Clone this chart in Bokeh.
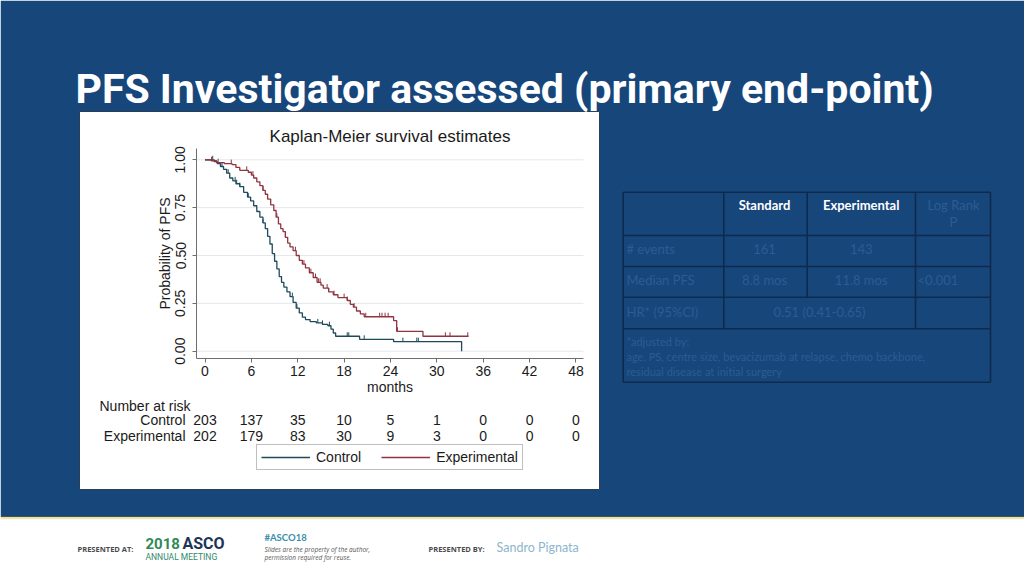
import numpy as np
from bokeh.plotting import figure
from bokeh.models import (Range1d, Legend, LegendItem, FixedTicker, NumeralTickFormatter,
                          LinearAxis)
from bokeh.embed import file_html
from bokeh.resources import INLINE
from bokeh.core.properties import value

# ---------------- data ----------------
ctrl_t = [0, 1.2, 1.6, 2.0, 2.4, 2.8, 3.2, 3.6, 4.0, 4.5, 5.0, 5.5, 5.9, 6.3, 6.7, 7.1, 7.5,
          7.8, 8.1, 8.4, 8.7, 9.0, 9.3, 9.6, 9.9, 10.2, 10.6, 11.0, 11.4, 11.8, 12.2, 12.6,
          13.0, 13.6, 14.4, 15.2, 15.9, 16.3, 16.6, 16.9, 20.0, 24.4, 33.2]
ctrl_s = [1.0, 0.99, 0.98, 0.965, 0.95, 0.93, 0.905, 0.89, 0.875, 0.86, 0.83, 0.805, 0.785,
          0.76, 0.73, 0.70, 0.67, 0.64, 0.60, 0.56, 0.51, 0.47, 0.43, 0.39, 0.36, 0.335, 0.31,
          0.285, 0.255, 0.225, 0.20, 0.178, 0.165, 0.155, 0.148, 0.14, 0.133, 0.115, 0.095,
          0.078, 0.062, 0.05, 0.0]
ctrl_censor = [1.0, 2.2, 3.0, 3.9, 4.1, 4.5, 5.6, 7.5, 11.3, 11.9, 14.6, 15.2, 16.1, 18.4,
               18.6, 20.6, 25.6, 27.4, 27.6]

exp_t = [0, 0.8, 1.5, 2.5, 3.5, 4.0, 4.5, 5.6, 6.0, 6.3, 6.7, 7.1, 7.5, 7.8, 8.1, 8.5, 8.9,
         9.2, 9.5, 9.8, 10.1, 10.4, 10.7, 11.0, 11.4, 11.8, 12.2, 12.6, 13.0, 13.5, 14.0, 14.5,
         15.0, 15.3, 16.0, 16.6, 17.2, 18.4, 18.8, 19.2, 19.6, 20.1, 20.6, 24.4, 24.8, 28.2, 34.1]
exp_s = [1.0, 0.995, 0.985, 0.98, 0.975, 0.96, 0.945, 0.935, 0.92, 0.905, 0.885, 0.865, 0.84,
         0.82, 0.795, 0.765, 0.735, 0.70, 0.665, 0.64, 0.625, 0.595, 0.565, 0.545, 0.525, 0.50,
         0.475, 0.455, 0.435, 0.41, 0.385, 0.36, 0.345, 0.33, 0.31, 0.295, 0.28, 0.265, 0.245,
         0.23, 0.21, 0.195, 0.18, 0.16, 0.104, 0.078, 0.078]
exp_censor = [0.85, 1.7, 3.4, 5.4, 6.2, 7.5, 9.3, 10.4, 11.7, 12.8, 13.7, 14.3, 14.7, 14.9,
              15.8, 16.0, 16.7, 18.0, 18.4, 19.3, 20.8, 22.6, 22.9, 23.3, 23.7, 24.9, 31.1,
              31.7, 34.0]

x_ticks = [0, 6, 12, 18, 24, 30, 36, 42, 48]
y_ticks = [0.0, 0.25, 0.5, 0.75, 1.0]
risk_times = [0, 6, 12, 18, 24, 30, 36, 42, 48]
risk_control = [203, 137, 35, 10, 5, 1, 0, 0, 0]
risk_experimental = [202, 179, 83, 30, 9, 3, 0, 0, 0]
group_names = ["Control", "Experimental"]

table_header = ["Standard", "Experimental", "Log Rank", "P"]
row_labels = ["# events", "Median PFS", "HR* (95%CI)"]
events = ["161", "143"]
median_pfs = ["8.8 mos", "11.8 mos"]
logrank_p = "<0.001"
hr_text = "0.51 (0.41-0.65)"
notes = ["*adjusted by:",
         " age, PS, centre size, bevacizumab at relapse, chemo backbone,",
         "residual disease at initial surgery"]

slide_title = "PFS Investigator assessed (primary end-point)"
km_title = "Kaplan-Meier survival estimates"

# ---------------- styles / layout constants ----------------
BLUE = "#17467B"
C_CTRL = "#1F4A5C"
C_EXP = "#8E3540"
AX = "#6E6E6E"
TXT = "#1A1A1A"
DIM = "#2C5C93"
W, H = 1024, 576

FR_L, FR_R, FR_T, FR_B = 196, 583, 148, 358     # KM plot region (page px)
X0PX, PXM = 204.5, 7.729                         # page px of month 0, px per month
Y0PX, PXS = 350.7, 191.4                         # page px of S=0, px per unit


def px2m(px):
    return (px - X0PX) / PXM


def px2s(py):
    return (Y0PX - py) / PXS


xm0, xm1 = px2m(FR_L), px2m(FR_R)
ys0, ys1 = px2s(FR_B), px2s(FR_T)

p = figure(width=W, height=H, x_range=Range1d(px2m(0), px2m(W)),
           y_range=Range1d(px2s(H), px2s(0)), toolbar_location=None, output_backend="svg",
           x_axis_location=None, y_axis_location=None, min_border=0,
           background_fill_color="white", border_fill_color="white", outline_line_color=None)
for g in p.grid:
    g.visible = False
p.extra_x_ranges = {"px": Range1d(0, W)}
p.extra_y_ranges = {"px": Range1d(H, 0)}
PX = dict(x_range_name="px", y_range_name="px")

# ---------------- slide background ----------------
p.quad(left=[0], right=[W], top=[0], bottom=[515.5], fill_color=BLUE, line_color=None, **PX)
p.quad(left=[0], right=[W], top=[515.5], bottom=[516.7], fill_color="#44564A", line_color=None, **PX)
p.quad(left=[0], right=[W], top=[516.7], bottom=[518.7], fill_color="#EDE7AE", line_color=None, **PX)
p.quad(left=[79], right=[599], top=[111], bottom=[489], fill_color="white",
       line_color="#2A3F55", line_width=1, **PX)

p.text(x=[75], y=[88], text=[slide_title], text_font=value("Roboto"),
       text_font_size=value("41px"), text_font_style="bold", text_color="white",
       text_baseline="middle", text_align="left", **PX)

# ---------------- KM plot ----------------
p.segment(x0=[xm0] * len(y_ticks), x1=[xm1] * len(y_ticks), y0=y_ticks, y1=y_ticks,
          line_color="#E3E8EB", line_width=1)

xax = LinearAxis(ticker=FixedTicker(ticks=x_ticks), fixed_location=ys0, bounds=(xm0, xm1),
                 axis_label="months")
yax = LinearAxis(ticker=FixedTicker(ticks=y_ticks), fixed_location=xm0, bounds=(ys0, ys1),
                 formatter=NumeralTickFormatter(format="0.00"), axis_label="Probability of PFS",
                 major_label_orientation="vertical")
for ax in (xax, yax):
    ax.axis_line_color = AX
    ax.major_tick_line_color = AX
    ax.minor_tick_line_color = None
    ax.major_tick_out = 4
    ax.major_tick_in = 0
    ax.major_label_text_font = "Liberation Sans"
    ax.major_label_text_font_size = "14px"
    ax.major_label_text_color = TXT
    ax.axis_label_text_font = "Liberation Sans"
    ax.axis_label_text_font_size = "14px"
    ax.axis_label_text_font_style = "normal"
    ax.axis_label_text_color = TXT
xax.major_label_standoff = 3
xax.axis_label_standoff = 0
yax.major_label_standoff = 7
yax.axis_label_standoff = 0
p.add_layout(xax, "below")
p.add_layout(yax, "left")

r_ctrl = p.step(ctrl_t, ctrl_s, mode="after", line_color=C_CTRL, line_width=1.3)
r_exp = p.step(exp_t, exp_s, mode="after", line_color=C_EXP, line_width=1.3)


def surv_at(ts, ss, cs):
    ts = np.asarray(ts)
    idx = np.searchsorted(ts, np.asarray(cs), side="right") - 1
    return np.asarray(ss)[idx]


TICK_H = 4.0 / PXS
for ts, ss, cs, col in ((ctrl_t, ctrl_s, ctrl_censor, C_CTRL), (exp_t, exp_s, exp_censor, C_EXP)):
    sv = surv_at(ts, ss, cs)
    p.segment(x0=cs, y0=sv, x1=cs, y1=sv + TICK_H, line_color=col, line_width=1)

LIB = value("Liberation Sans")
p.text(x=[(FR_L + FR_R) / 2], y=[136], text=[km_title], text_font=LIB,
       text_font_size=value("17px"), text_color=TXT, text_align="center",
       text_baseline="middle", **PX)

# numbers at risk
p.text(x=[px2m(99)], y=[px2s(405)], text=["Number at risk"], text_font=LIB,
       text_font_size=value("14px"), text_color=TXT, text_align="left", text_baseline="middle")
p.text(x=[px2m(185)] * 2, y=[px2s(419), px2s(435)], text=group_names, text_font=LIB,
       text_font_size=value("14px"), text_color=TXT, text_align="right", text_baseline="middle")
p.text(x=risk_times, y=[px2s(419)] * len(risk_times), text=[str(v) for v in risk_control],
       text_font=LIB, text_font_size=value("14px"), text_color=TXT, text_align="center",
       text_baseline="middle")
p.text(x=risk_times, y=[px2s(435)] * len(risk_times), text=[str(v) for v in risk_experimental],
       text_font=LIB, text_font_size=value("14px"), text_color=TXT, text_align="center",
       text_baseline="middle")

legend = Legend(items=[LegendItem(label=group_names[0], renderers=[r_ctrl]),
                       LegendItem(label=group_names[1], renderers=[r_exp])],
                orientation="horizontal", location=(256, H - 470), margin=0,
                padding=4, spacing=20, glyph_width=49, glyph_height=14, label_standoff=6,
                label_height=14, label_text_font="Liberation Sans",
                label_text_font_size="14px", label_text_color=TXT,
                border_line_color="#7F7F7F", border_line_width=1,
                background_fill_color="white", background_fill_alpha=1)
p.add_layout(legend)

# ---------------- table ----------------
TL, TR = 622.7, 990
C1, C2, C3 = 723.3, 806.7, 915
R = [191.7, 235, 266, 296.7, 328.3, 381.7]
LINE = "#0E2A4C"
p.segment(x0=[TL] * 6, x1=[TR] * 6, y0=R, y1=R, line_color=LINE, line_width=1.6, **PX)
p.segment(x0=[TL, TR, C1, C3, C2], x1=[TL, TR, C1, C3, C2],
          y0=[R[0]] * 5, y1=[R[5], R[5], R[4], R[4], R[3]], line_color=LINE, line_width=1.6, **PX)
LATO = value("Lato")
T13 = dict(text_font=LATO, text_font_size=value("13px"), text_baseline="middle", **PX)
p.text(x=[764, 860.7], y=[204.3, 204.3], text=table_header[:2], text_font_style="bold",
       text_color="white", text_align="center", **T13)
p.text(x=[953, 953], y=[204.3, 221.7], text=table_header[2:], text_color=DIM,
       text_align="center", **T13)
p.text(x=[626] * 3, y=[248.3, 279.3, 311], text=row_labels, text_color=DIM,
       text_align="left", **T13)
p.text(x=[764, 860.7], y=[248.3, 248.3], text=events, text_color=DIM, text_align="center", **T13)
p.text(x=[764, 860.7], y=[279.3, 279.3], text=median_pfs, text_color=DIM, text_align="center", **T13)
p.text(x=[917], y=[279.3], text=[logrank_p], text_color=DIM, text_align="left", **T13)
p.text(x=[819], y=[311], text=[hr_text], text_color=DIM, text_align="center", **T13)
p.text(x=[626] * 3, y=[340.7, 355.7, 370.7], text=notes, text_font=LATO,
       text_font_size=value("11px"), text_color=DIM, text_baseline="middle", text_align="left", **PX)

# ---------------- footer ----------------
OS = value("Open Sans")
RB = value("Roboto")
p.text(x=[77, 428], y=[548, 548], text=["PRESENTED AT:", "PRESENTED BY:"], text_font=OS,
       text_font_size=value("7.5px"), text_font_style="bold", text_color="#4A4A4A",
       text_baseline="middle", text_align="left", **PX)
p.text(x=[145], y=[543], text=["2018"], text_font=RB, text_font_size=value("15px"),
       text_font_style="bold", text_color="#2F8A58", text_baseline="middle",
       text_align="left", **PX)
p.text(x=[182], y=[543], text=["ASCO"], text_font=RB, text_font_size=value("16px"),
       text_font_style="bold", text_color="#1B3558", text_baseline="middle",
       text_align="left", **PX)
p.text(x=[145], y=[556], text=["ANNUAL MEETING"], text_font=RB, text_font_size=value("8.5px"),
       text_color="#2F8A6A", text_baseline="middle", text_align="left", **PX)
p.text(x=[264], y=[537], text=["#ASCO18"], text_font=LATO, text_font_size=value("9.5px"),
       text_font_style="bold", text_color="#3A8FAA", text_baseline="middle",
       text_align="left", **PX)
p.text(x=[264, 264], y=[549, 557],
       text=["Slides are the property of the author,", "permission required for reuse."],
       text_font=OS, text_font_size=value("6.5px"), text_font_style="italic",
       text_color="#555555", text_baseline="middle", text_align="left", **PX)
p.text(x=[496], y=[547], text=["Sandro Pignata"], text_font=LATO, text_font_size=value("12.5px"),
       text_color="#8DB6CC", text_baseline="middle", text_align="left", **PX)

open("out.html", "w").write(file_html(p, INLINE))
